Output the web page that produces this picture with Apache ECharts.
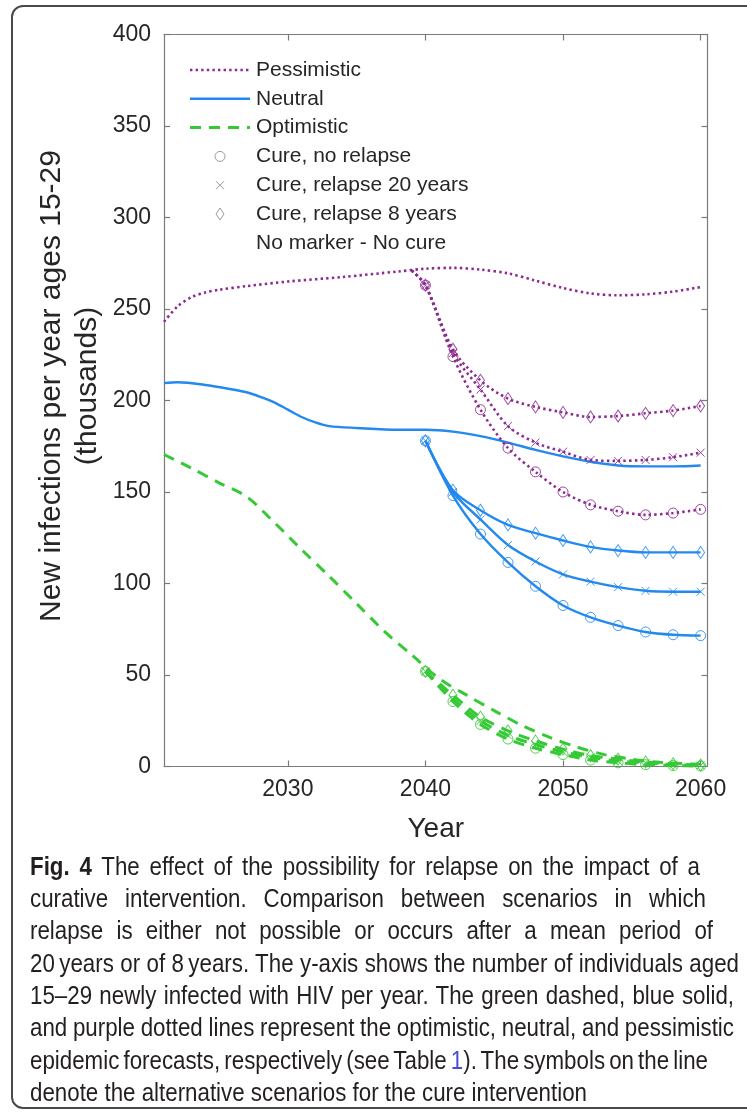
<!DOCTYPE html>
<html>
<head>
<meta charset="utf-8">
<script src="https://cdn.jsdelivr.net/npm/echarts@6/dist/echarts.min.js"></script>
<style>
  html, body { margin: 0; padding: 0; background: #fff; width: 747px; height: 1116px; overflow: hidden; }
  #frame { position: absolute; left: 11px; top: 5px; width: 800px; height: 1104px; border: 2px solid #4a4a4a; border-radius: 12px; box-sizing: border-box; }
  #chart { position: absolute; left: 0; top: 0; width: 747px; height: 860px; }
  .cap-line { position: absolute; left: 30px; white-space: nowrap; font-family: 'Liberation Sans', Arial, sans-serif; font-size: 26px; line-height: 32px; color: #231f20; transform-origin: 0 0; }
  .cap-line b { font-weight: bold; }
  .cap-link { color: #4b4bd8; }
</style>
</head>
<body>
<div id="frame"></div>
<div id="chart"></div>
<div id="caption"></div>
<script>
// ---- axis ticks ----
const xTicks = [2030, 2040, 2050, 2060];

// ---- scenario curves without cure (thousands of new infections per year) ----
const pessimisticYears = [2021, 2022, 2023, 2024, 2025, 2027, 2030, 2034, 2038, 2040, 2042, 2044, 2046, 2048, 2050, 2052, 2054, 2056, 2058, 2060];
const pessimisticNoCure = [243, 251.5, 256.5, 259, 260.5, 262.5, 265, 267.5, 270.5, 272, 272.5, 271.5, 269.5, 265.5, 261.5, 258.5, 257.5, 258, 259.5, 262];

const neutralYears = [2021, 2022, 2024, 2026, 2027, 2028, 2029, 2030, 2031, 2032, 2033, 2035, 2038, 2040, 2042, 2044, 2046, 2048, 2050, 2052, 2054, 2056, 2058, 2060];
const neutralNoCure = [209.5, 210, 208.5, 206, 204.5, 202, 199, 195, 191, 188, 186, 185, 184, 184, 183, 180.5, 177, 173, 169.5, 166.5, 164.5, 164, 164, 164.5];

const optimisticYears = [2021, 2023, 2025, 2027, 2029, 2031, 2033, 2035, 2037, 2039, 2041, 2043, 2045, 2047, 2049, 2051, 2053, 2055, 2057, 2060];
const optimisticNoCure = [170.5, 163, 155, 147.5, 133.5, 118.5, 104, 89, 74, 61, 48, 39, 30.5, 22.5, 16, 10.7, 6.5, 4, 2.3, 1.2];

// ---- cure scenarios, sampled every two years from 2040 ----
const cureYears = [2040, 2042, 2044, 2046, 2048, 2050, 2052, 2054, 2056, 2058, 2060];

const pessimisticNoRelapse = [263, 224, 195, 174, 161, 150, 143, 139.5, 137.5, 138.5, 140.5];
const pessimisticRelapse20 = [263, 226, 206, 186, 177, 172, 167.5, 167, 167.5, 169, 171.5];
const pessimisticRelapse8  = [263, 228, 211, 201, 196.5, 193.5, 191, 191.5, 193, 194.5, 197];
const pessimisticCureStart = { year: 2039, value: 271 };

const neutralNoRelapse = [178, 148, 127, 111.5, 98.5, 88, 81.5, 77, 73.5, 72, 71.5];
const neutralRelapse20 = [178, 150, 135, 121, 112, 105, 101, 98, 96, 95.5, 95.5];
const neutralRelapse8  = [178, 151, 140, 132, 127.5, 123.5, 120, 118, 117, 117, 117];

const optimisticNoRelapse = [52, 35.5, 23, 15, 10, 6.5, 3.5, 2, 1, 0.5, 0.3];
const optimisticRelapse20 = [52, 37, 25, 17, 12, 8, 5, 3, 2, 1, 0.6];
const optimisticRelapse8  = [52, 39, 27, 19.5, 14, 9.5, 6, 4, 2.5, 1.5, 0.8];

// ---- legend entries ----
const legendLines = ['Pessimistic', 'Neutral', 'Optimistic'];
const legendMarkers = ['Cure, no relapse', 'Cure, relapse 20 years', 'Cure, relapse 8 years'];
const legendNote = 'No marker - No cure';

// ---- axis titles ----
const xTitle = 'Year';
const yTitle = 'New infections per year ages 15-29\n(thousands)';

// ---- caption ----
const captionLines = [
  [['b', 'Fig. 4'], ['t', ' The effect of the possibility for relapse on the impact of a']],
  [['t', 'curative intervention. Comparison between scenarios in which']],
  [['t', 'relapse is either not possible or occurs after a mean period of']],
  [['t', '20\u2009years or of 8\u2009years. The y-axis shows the number of individuals aged']],
  [['t', '15\u201329 newly infected with HIV per year. The green dashed, blue solid,']],
  [['t', 'and purple dotted lines represent the optimistic, neutral, and pessimistic']],
  [['t', 'epidemic forecasts, respectively (see Table '], ['a', '1'], ['t', '). The symbols on the line']],
  [['t', 'denote the alternative scenarios for the cure intervention']]
];

// ---- styling ----
const FONT = "'Liberation Sans', Arial, Helvetica, sans-serif";
const TEXT = '#262626';
const AXIS = '#7a7a7a';
const PURPLE = '#8c2a92';
const BLUE = '#2389ee';
const GREEN = '#36c936';

const styles = {
  pessimistic: { color: PURPLE, width: 2.6, type: [2.4, 3.2] },
  neutral: { color: BLUE, width: 2.4, type: 'solid' },
  optimistic: { color: GREEN, width: 3, type: [11, 8] }
};

const markers = {
  noRelapse: { symbol: 'circle', size: 10 },
  relapse20: { symbol: 'path://M0,0L10,10M10,0L0,10', size: 8 },
  relapse8: { symbol: 'diamond', size: [8, 12] }
};

function pairs(xs, ys) { return xs.map((x, i) => [x, ys[i]]); }

function baseSeries(name, data, style) {
  return {
    name: name, type: 'line', data: data,
    xAxisIndex: 0, yAxisIndex: 0,
    smooth: 0.3,
    showSymbol: false, symbol: 'none',
    lineStyle: { color: style.color, width: style.width, type: style.type, cap: 'butt' },
    emphasis: { disabled: true }, silent: true, z: 2
  };
}

function cureSeries(name, values, style, marker, lead) {
  const data = pairs(cureYears, values);
  if (lead) data.unshift({ value: [lead.year, lead.value], symbol: 'none' });
  const s = baseSeries(name, data, style);
  s.showSymbol = true;
  s.showAllSymbol = true;
  s.symbol = marker.symbol;
  s.symbolSize = marker.size;
  s.itemStyle = { color: 'rgba(0,0,0,0)', borderColor: style.color, borderWidth: 1, opacity: 0.85 };
  s.z = 3;
  return s;
}

const series = [
  baseSeries('Pessimistic', pairs(pessimisticYears, pessimisticNoCure), styles.pessimistic),
  baseSeries('Neutral', pairs(neutralYears, neutralNoCure), styles.neutral),
  baseSeries('Optimistic', pairs(optimisticYears, optimisticNoCure), styles.optimistic),

  cureSeries('Pessimistic, no relapse', pessimisticNoRelapse, styles.pessimistic, markers.noRelapse, pessimisticCureStart),
  cureSeries('Pessimistic, relapse 20', pessimisticRelapse20, styles.pessimistic, markers.relapse20, pessimisticCureStart),
  cureSeries('Pessimistic, relapse 8', pessimisticRelapse8, styles.pessimistic, markers.relapse8, pessimisticCureStart),

  cureSeries('Neutral, no relapse', neutralNoRelapse, styles.neutral, markers.noRelapse),
  cureSeries('Neutral, relapse 20', neutralRelapse20, styles.neutral, markers.relapse20),
  cureSeries('Neutral, relapse 8', neutralRelapse8, styles.neutral, markers.relapse8),

  cureSeries('Optimistic, no relapse', optimisticNoRelapse, styles.optimistic, markers.noRelapse),
  cureSeries('Optimistic, relapse 20', optimisticRelapse20, styles.optimistic, markers.relapse20),
  cureSeries('Optimistic, relapse 8', optimisticRelapse8, styles.optimistic, markers.relapse8)
];

// ---- legend drawn in the upper-left corner of the plot box ----
const LEG_X_LINE0 = 190, LEG_X_LINE1 = 250, LEG_X_TEXT = 256, LEG_X_MARK = 220;
const LEG_Y0 = 70, LEG_DY = 28.8;
const legendStyles = [styles.pessimistic, styles.neutral, styles.optimistic];
const graphics = [];
const rowY = i => LEG_Y0 + i * LEG_DY;
function legText(i, txt) {
  graphics.push({ type: 'text', x: LEG_X_TEXT, y: rowY(i), silent: true,
    style: { text: txt, font: '21px ' + FONT, fill: TEXT, verticalAlign: 'middle' } });
}
legendLines.forEach((label, i) => {
  const st = legendStyles[i];
  graphics.push({ type: 'line', silent: true,
    shape: { x1: LEG_X_LINE0, y1: rowY(i), x2: LEG_X_LINE1, y2: rowY(i) },
    style: { stroke: st.color, lineWidth: st.width, lineDash: Array.isArray(st.type) ? st.type : null } });
  legText(i, label);
});
const GRAY = '#9a9a9a';
const mY = [rowY(3), rowY(4), rowY(5)];
graphics.push({ type: 'circle', silent: true, shape: { cx: LEG_X_MARK, cy: mY[0], r: 5 }, style: { fill: 'none', stroke: GRAY, lineWidth: 1 } });
graphics.push({ type: 'polyline', silent: true, shape: { points: [[LEG_X_MARK - 4, mY[1] - 4], [LEG_X_MARK + 4, mY[1] + 4]] }, style: { stroke: GRAY, lineWidth: 1 } });
graphics.push({ type: 'polyline', silent: true, shape: { points: [[LEG_X_MARK + 4, mY[1] - 4], [LEG_X_MARK - 4, mY[1] + 4]] }, style: { stroke: GRAY, lineWidth: 1 } });
graphics.push({ type: 'polygon', silent: true, shape: { points: [[LEG_X_MARK, mY[2] - 6], [LEG_X_MARK + 4, mY[2]], [LEG_X_MARK, mY[2] + 6], [LEG_X_MARK - 4, mY[2]]] }, style: { fill: 'none', stroke: GRAY, lineWidth: 1 } });
legendMarkers.forEach((label, k) => legText(3 + k, label));
legText(6, legendNote);

// y-axis title: two rotated lines to the left of the tick labels
graphics.push({ type: 'text', x: 70, y: 386, rotation: Math.PI / 2, silent: true,
  style: { text: yTitle, font: '30px ' + FONT, fill: TEXT, align: 'center', verticalAlign: 'middle', lineHeight: 36 } });

const axisCommon = {
  type: 'value',
  axisLine: { show: true, onZero: false, lineStyle: { color: AXIS, width: 1.2 } },
  splitLine: { show: false }
};

const option = {
  animation: false,
  backgroundColor: 'transparent',
  textStyle: { fontFamily: FONT },
  grid: { left: 164, top: 34.5, width: 543.5, height: 732, containLabel: false, outerBoundsMode: 'none' },
  xAxis: [
    Object.assign({}, axisCommon, {
      min: 2021, max: 2060.5, position: 'bottom',
      axisTick: { show: true, inside: true, length: 6, customValues: xTicks, lineStyle: { color: AXIS, width: 1.2 } },
      axisLabel: { customValues: xTicks, formatter: v => String(v), fontSize: 23, color: TEXT, margin: 12, fontFamily: FONT },
      name: xTitle, nameLocation: 'middle', nameGap: 49,
      nameTextStyle: { fontSize: 28, color: TEXT, fontFamily: FONT }
    }),
    Object.assign({}, axisCommon, {
      min: 2021, max: 2060.5, position: 'top',
      axisTick: { show: true, inside: true, length: 6, customValues: xTicks, lineStyle: { color: AXIS, width: 1.2 } },
      axisLabel: { show: false }
    })
  ],
  yAxis: [
    Object.assign({}, axisCommon, {
      min: 0, max: 400, interval: 50, position: 'left',
      axisTick: { show: true, inside: true, length: 6, lineStyle: { color: AXIS, width: 1.2 } },
      axisLabel: { fontSize: 23, color: TEXT, margin: 13, fontFamily: FONT }
    }),
    Object.assign({}, axisCommon, {
      min: 0, max: 400, interval: 50, position: 'right',
      axisTick: { show: true, inside: true, length: 6, lineStyle: { color: AXIS, width: 1.2 } },
      axisLabel: { show: false }
    })
  ],
  graphic: graphics,
  series: series
};

const chart = echarts.init(document.getElementById('chart'));
chart.setOption(option);

// ---- caption, set as justified lines in a condensed face ----
const capTops = [850, 882, 914, 947, 979, 1011, 1044, 1076];
const capRight = [700, 706, 713, 739, 734, 734, 708, 587];
const capLeft = 30;
const holder = document.getElementById('caption');
const lineEls = captionLines.map((parts, i) => {
  const d = document.createElement('div');
  d.className = 'cap-line';
  d.style.top = capTops[i] + 'px';
  parts.forEach(([kind, txt]) => {
    const s = document.createElement(kind === 'b' ? 'b' : 'span');
    if (kind === 'a') s.className = 'cap-link';
    s.textContent = txt;
    d.appendChild(s);
  });
  holder.appendChild(d);
  return d;
});
const naturalWidths = lineEls.map(el => el.getBoundingClientRect().width);
const last = lineEls.length - 1;
const squeeze = (capRight[last] - capLeft) / naturalWidths[last];
lineEls.forEach((el, i) => {
  el.style.transform = 'scaleX(' + squeeze + ')';
  if (i === last) return;
  const spaces = (el.textContent.match(/ /g) || []).length;
  const extra = ((capRight[i] - capLeft) / squeeze - naturalWidths[i]) / Math.max(1, spaces);
  el.style.wordSpacing = extra + 'px';
});
</script>
</body>
</html>
